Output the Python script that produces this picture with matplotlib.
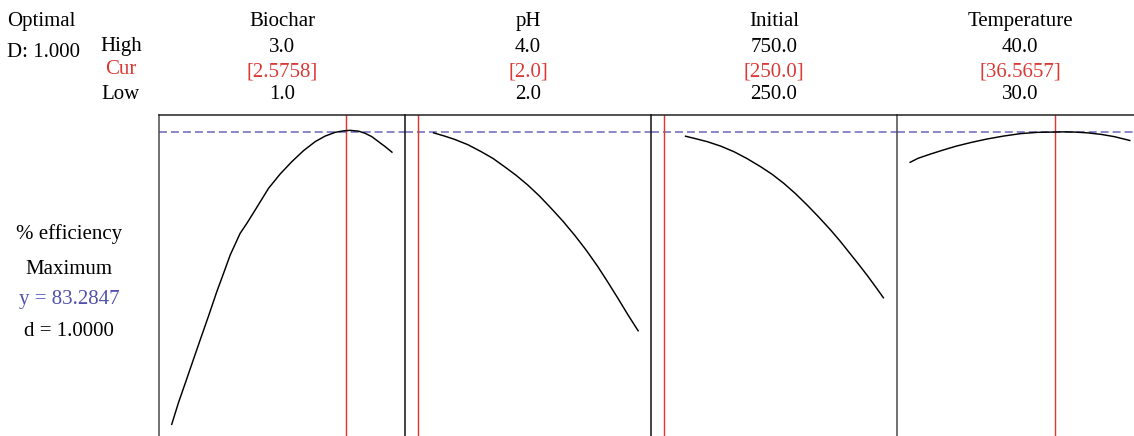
import matplotlib
matplotlib.use("Agg")
import matplotlib.pyplot as plt

# Factor settings
factors = ["Biochar", "pH", "Initial", "Temperature"]
high_vals = [3.0, 4.0, 750.0, 40.0]
low_vals = [1.0, 2.0, 250.0, 30.0]
cur_vals = [2.5758, 2.0, 250.0, 36.5657]
high_text = ["3.0", "4.0", "750.0", "40.0"]
cur_text = ["[2.5758]", "[2.0]", "[250.0]", "[36.5657]"]
low_text = ["1.0", "2.0", "250.0", "30.0"]

# Predicted response (% efficiency) traced across each factor range
biochar_x = [1.0, 1.063, 1.124, 1.184, 1.259, 1.335, 1.41, 1.471, 1.531, 1.621,
             1.682, 1.757, 1.878, 1.983, 2.089, 2.195, 2.30, 2.391, 2.481,
             2.557, 2.617, 2.692, 2.753, 2.813, 2.873, 2.934, 3.0]
biochar_y = [54.03, 56.27, 58.2, 60.13, 62.53, 64.93, 67.37, 69.2, 71.03, 73.2,
             74.2, 75.53, 77.7, 79.13, 80.37, 81.47, 82.37, 82.93, 83.3,
             83.45, 83.5, 83.42, 83.2, 82.87, 82.37, 81.87, 81.27]
ph_x = [2.139, 2.244, 2.335, 2.455, 2.576, 2.682, 2.787, 2.893, 2.998, 3.104,
        3.21, 3.315, 3.421, 3.526, 3.632, 3.722, 3.813, 3.903, 4.0]
ph_y = [83.27, 82.93, 82.6, 82.07, 81.37, 80.7, 79.87, 79.0, 78.03, 76.93,
        75.7, 74.43, 73.03, 71.53, 69.87, 68.33, 66.72, 65.08, 63.4]
initial_x = [298.3, 322.4, 348.8, 379.0, 409.1, 439.3, 469.5, 495.9, 522.2,
             548.6, 575.0, 601.4, 627.8, 650.4, 673.1, 691.9, 710.8, 729.6, 748.5]
initial_y = [82.93, 82.67, 82.37, 81.93, 81.37, 80.67, 79.87, 79.1, 78.2,
             77.17, 76.03, 74.82, 73.55, 72.38, 71.12, 70.08, 69.0, 67.87, 66.7]
temp_x = [30.0, 30.38, 30.91, 31.52, 32.13, 32.81, 33.5, 34.26, 35.02, 35.78,
          36.54, 36.99, 37.45, 38.06, 38.66, 39.27, 40.0]
temp_y = [80.27, 80.7, 81.1, 81.53, 81.93, 82.3, 82.63, 82.93, 83.17, 83.3,
          83.33, 83.35, 83.33, 83.25, 83.1, 82.87, 82.47]

curves_x = [biochar_x, ph_x, initial_x, temp_x]
curves_y = [biochar_y, ph_y, initial_y, temp_y]

response_name = "% efficiency"
goal = "Maximum"
y_opt = 83.2847
d_text = "d = 1.0000"
composite_d = "D: 1.000"

W, H = 1134, 436
fig = plt.figure(figsize=(W / 100, H / 100), dpi=100)
plt.rcParams["font.family"] = ["Liberation Serif", "DejaVu Serif"]

RED = "#d93a35"
BLUE = "#5252ad"
DASH = "#7a7ac2"
FS = 15


def fx(px):
    return px / W


def fy(py):
    return 1 - py / H


panel_left = 159
panel_w = 246
plot_top = 115
pad = 0.0566
y_top = y_opt + (132.5 - plot_top) * 0.1
y_bot = y_opt - (H - 132.5) * 0.1

for k, name in enumerate(factors):
    left = panel_left + k * panel_w
    ax = fig.add_axes([fx(left), 0, panel_w / W, (H - plot_top) / H])
    lo, hi = low_vals[k], high_vals[k]
    r = hi - lo
    ax.set_xlim(lo - pad * r, hi + pad * r)
    ax.set_ylim(y_bot, y_top)
    ax.set_xticks([])
    ax.set_yticks([])
    ax.spines["bottom"].set_visible(False)
    ax.spines["right"].set_visible(False)
    ax.spines["top"].set_color("#222222")
    ax.spines["top"].set_linewidth(1.1)
    ax.spines["left"].set_linewidth(1.1)
    ax.spines["left"].set_color("#4a4a4a" if k in (0, 3) else "#111111")
    ax.patch.set_alpha(0)

    ax.axhline(y_opt, color=DASH, lw=1.25, dashes=(4.6, 2.3), zorder=1)
    ax.axvline(cur_vals[k], color=RED, lw=1.05, zorder=2)
    ax.plot(curves_x[k], curves_y[k], color="black", lw=1.05, zorder=3,
            solid_capstyle="butt", solid_joinstyle="round")

    cx = fx(left + panel_w / 2)
    fig.text(cx, fy(26), name, ha="center", va="baseline", fontsize=FS)
    fig.text(cx, fy(52.5), high_text[k], ha="center", va="baseline", fontsize=FS)
    fig.text(cx, fy(76), cur_text[k], ha="center", va="baseline", fontsize=FS,
             color=RED)
    fig.text(cx, fy(98.5), low_text[k], ha="center", va="baseline", fontsize=FS)

# Header labels
fig.text(fx(7), fy(26), "Optimal", ha="left", va="baseline", fontsize=FS)
fig.text(fx(7), fy(57), composite_d, ha="left", va="baseline", fontsize=FS)
fig.text(fx(121), fy(50.5), "High", ha="center", va="baseline", fontsize=FS)
fig.text(fx(121), fy(74), "Cur", ha="center", va="baseline", fontsize=FS,
         color=RED)
fig.text(fx(121), fy(98.5), "Low", ha="center", va="baseline", fontsize=FS)

# Response summary
fig.text(fx(69), fy(239), response_name, ha="center", va="baseline", fontsize=FS)
fig.text(fx(69), fy(274), goal, ha="center", va="baseline", fontsize=FS)
fig.text(fx(69), fy(304), f"y = {y_opt:.4f}", ha="center", va="baseline",
         fontsize=FS, color=BLUE)
fig.text(fx(69), fy(336), d_text, ha="center", va="baseline", fontsize=FS)

fig.savefig("out.png", dpi=100)
